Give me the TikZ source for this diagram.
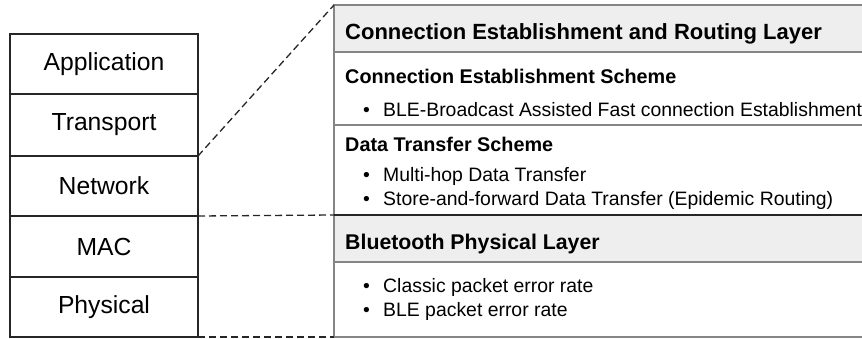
\documentclass[tikz,border=0pt]{standalone}
\usepackage{fontspec}
\setmainfont{Liberation Sans}
\definecolor{bandgray}{HTML}{EEEEEE}
\definecolor{panelgray}{HTML}{858585}
\definecolor{stackline}{HTML}{262626}
\begin{document}
\begin{tikzpicture}[x=1pt,y=-1pt,
  layerbox/.style={draw=stackline, line width=1.2pt, minimum width=188pt, inner sep=0pt, outer sep=0pt, anchor=north west, font=\fontsize{24.7}{26}\selectfont},
  secbox/.style={draw=panelgray, line width=1.3pt, minimum width=540pt, inner sep=0pt, outer sep=0pt, anchor=north west},
  headtxt/.style={anchor=base west, inner sep=0pt, font=\fontsize{22}{24}\selectfont\bfseries},
  subtxt/.style={anchor=base west, inner sep=0pt, font=\fontsize{19.8}{21}\selectfont\bfseries},
  itemtxt/.style={anchor=base west, inner sep=0pt, font=\fontsize{19.4}{21}\selectfont},
  bul/.style={anchor=base west, inner sep=0pt, font=\fontsize{19.4}{21}\selectfont},
  zoomline/.style={draw=black!85, line width=1.3pt, dash pattern=on 7pt off 4pt}
]
\useasboundingbox (0,0) rectangle (862,339);
\clip (0,0) rectangle (862,339);
% left protocol stack
\node[layerbox, minimum height=60pt] (app) at (10,34) {Application};
\node[layerbox, minimum height=62pt] (tra) at (10,94) {Transport};
\node[layerbox, minimum height=60pt] (net) at (10,156) {Network};
\node[layerbox, minimum height=61pt] (mac) at (10,216) {MAC};
\node[layerbox, minimum height=60pt] (phy) at (10,277) {Physical};
% right detail panel
\node[secbox, fill=bandgray, minimum height=47pt] (h1) at (334,5) {};
\node[secbox, minimum height=73pt] (s1) at (334,52) {};
\node[secbox, minimum height=90pt] (s2) at (334,125) {};
\node[secbox, fill=bandgray, minimum height=47pt] (h2) at (334,215) {};
\node[secbox, minimum height=75pt] (s3) at (334,262) {};
\draw[stackline, line width=1.3pt] (s2.south west) -- (s2.south east);
% texts
\node[headtxt] (t1) at (345,39.5) {Connection Establishment and Routing Layer};
\node[subtxt] (t2) at (345,84) {Connection Establishment Scheme};
\node[bul] (b1) at (363,117) {•};
\node[itemtxt] (t3) at (383,117) {BLE-Broadcast Assisted Fast connection Establishment};
\node[subtxt] (t4) at (345,152) {Data Transfer Scheme};
\node[bul] (b2) at (363,182) {•};
\node[itemtxt] (t5) at (383,182) {Multi-hop Data Transfer};
\node[bul] (b3) at (363,206) {•};
\node[itemtxt] (t6) at (383,206) {Store-and-forward Data Transfer (Epidemic Routing)};
\node[headtxt, font=\fontsize{21.3}{24}\selectfont\bfseries] (t7) at (345,249.5) {Bluetooth Physical Layer};
\node[bul] (b4) at (363,292) {•};
\node[itemtxt] (t8) at (383,292) {Classic packet error rate};
\node[bul] (b5) at (363,316) {•};
\node[itemtxt] (t9) at (383,316) {BLE packet error rate};
% zoom connectors
\draw[zoomline] (net.north east) -- (h1.north west);
\draw[zoomline] (net.south east) -- (h2.north west);
\draw[zoomline] (phy.south east) -- (s3.south west);
\end{tikzpicture}
\end{document}
